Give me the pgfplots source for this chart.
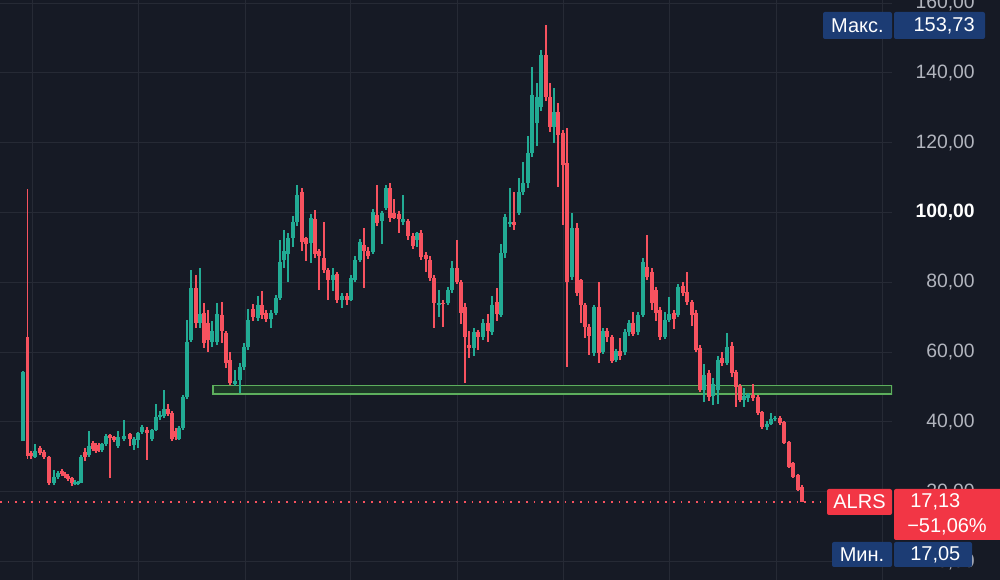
\documentclass[border=0pt]{standalone}
\usepackage{pgfplots}
\usepackage{pgfplotstable}
\pgfplotsset{compat=1.18}
\usepackage{fontspec}
\setmainfont{Liberation Sans}
\definecolor{bgc}{HTML}{161A25}
\definecolor{gridc}{HTML}{262A35}
\definecolor{up}{HTML}{22AB94}
\definecolor{dn}{HTML}{F7525F}
\definecolor{lblred}{HTML}{F23645}
\definecolor{navy}{HTML}{1C3C74}
\definecolor{lblgray}{HTML}{B2B5BE}
\definecolor{zoneline}{HTML}{5DAF5D}
\definecolor{zonefill}{HTML}{1C3826}

\pgfplotstableread{
x o h l c
23 34.6 54.6 34.4 54.4
27.5 64.4 106.8 29.5 30.3
31 31.2 31.8 29.3 30.2
35 30.0 33.8 29.6 31.8
40 32.6 33.2 30.4 31.0
44 31.4 32.0 29.5 29.9
49 30.0 30.2 22.0 22.6
54 22.4 26.2 22.0 24.2
58 24.2 26.0 23.6 25.4
62 25.8 26.6 24.4 25.0
65 25.2 25.6 24.0 24.6
68 24.6 25.0 23.0 23.6
72 23.8 24.2 21.6 22.4
75 22.2 23.4 21.8 22.8
78 22.4 23.2 22.0 22.8
81 22.6 30.4 22.4 30.0
85 31.4 32.4 28.8 29.8
89 30.4 37.3 30.0 33.2
93 34.0 34.6 31.6 32.2
96 32.8 34.0 31.0 31.8
99 33.4 34.0 31.4 32.2
102 32.0 34.0 31.4 33.6
106 33.8 36.4 33.2 36.0
110 36.2 36.6 24.0 35.4
114 35.6 36.0 34.2 34.8
118 33.0 37.5 32.6 35.8
124 35.0 40.6 34.4 36.0
130 36.6 36.8 33.2 35.2
134 33.4 35.8 32.0 35.0
138 34.8 37.2 32.4 36.8
142 37.0 39.2 36.4 38.4
147 37.8 38.6 29.2 36.8
152 35.0 38.0 34.6 37.6
156 37.8 45.0 37.4 41.4
160 41.4 43.0 40.6 42.0
164 41.6 49.2 41.0 43.8
168 43.6 45.2 41.8 42.4
172 42.6 43.0 34.6 35.0
176 37.4 38.2 34.8 35.6
179 35.2 38.8 34.8 38.2
183 38.2 47.6 37.8 47.0
187 47.2 69.3 46.6 63.0
191 63.6 83.6 62.8 78.5
196 78.5 82.0 66.8 68.4
200 68.4 84.0 67.0 71.0
204 71.3 74.2 61.2 62.7
208 68.4 72.0 60.0 63.4
212 63.0 69.0 61.5 66.0
217 63.0 74.0 62.0 71.0
222 70.5 74.4 62.5 66.0
226 65.5 66.0 55.5 57.0
230 57.8 60.0 50.6 51.2
235 51.0 55.0 50.4 51.6
240 52.0 57.0 48.4 55.8
244 55.8 62.5 54.8 61.5
248 61.5 72.4 60.5 69.3
253 72.4 73.8 69.0 70.0
258 69.9 76.0 69.0 73.6
262 73.6 77.5 69.6 70.6
266 71.3 72.0 68.6 69.6
271 69.6 72.0 67.0 71.3
276 71.3 76.4 70.6 75.6
280 75.6 92.0 75.0 85.9
284 86.5 95.0 84.0 89.0
288 88.0 94.0 80.0 92.6
293 92.8 99.0 90.0 97.4
297 97.4 108.0 96.0 105.0
302 106.0 107.0 89.0 91.6
306 92.6 93.0 86.0 91.0
311 91.3 99.5 85.6 98.5
315 98.0 100.8 87.0 88.0
319 88.9 89.5 77.9 87.6
324 87.0 97.4 82.8 83.6
328 83.6 84.0 75.0 80.7
333 80.7 84.0 77.5 82.2
337 82.5 83.0 74.0 75.0
342 75.0 77.0 72.7 76.0
347 76.2 77.0 73.5 75.0
351 75.0 82.0 74.6 81.3
355 80.7 87.5 80.0 86.5
360 86.5 92.4 85.8 91.6
364 90.8 95.5 78.5 89.0
368 89.0 90.0 86.8 87.6
373 88.8 101.0 88.0 100.2
377 99.2 108.0 96.0 97.0
382 97.5 100.5 91.0 99.8
386 101.4 107.8 100.8 107.0
390 107.0 108.4 97.4 98.3
394 100.0 104.0 98.0 98.5
399 99.6 100.5 94.0 98.2
403 97.2 105.0 96.4 98.0
408 97.7 98.0 92.0 93.2
413 93.2 94.0 89.5 90.5
417 92.2 94.4 90.0 94.2
421 94.2 95.0 86.5 87.3
426 87.8 88.6 83.0 86.8
430 86.5 87.5 80.4 81.3
434 81.3 82.0 67.0 74.2
439 73.6 77.8 70.0 74.0
443 74.2 75.0 67.3 73.8
448 74.2 78.6 73.4 77.9
452 77.9 86.0 77.0 84.2
457 84.2 92.2 79.4 80.0
461 80.0 80.6 68.0 71.3
465 73.0 74.0 51.2 64.4
469 62.0 66.0 58.4 61.2
474 61.3 67.0 59.0 65.8
478 65.8 66.4 60.6 64.3
483 64.4 69.4 63.6 68.4
488 68.4 71.0 63.0 66.0
492 65.8 76.0 65.0 73.6
497 74.4 78.4 69.0 71.0
501 70.7 91.0 70.0 88.5
505 88.5 99.6 87.0 98.8
510 96.6 107.0 95.8 97.2
514 97.4 106.0 95.0 96.4
519 100.0 110.0 99.4 106.0
523 106.0 114.6 105.0 108.5
528 108.5 122.0 107.0 117.0
532 117.0 141.8 116.0 133.7
537 125.7 137.0 119.0 133.0
541 130.3 146.6 129.0 145.2
546 145.2 153.73 132.0 133.2
550 133.2 137.0 123.0 124.6
554 124.6 135.8 120.0 128.9
558 128.9 131.5 107.4 122.3
563 122.9 123.6 96.5 113.7
567 114.3 124.3 55.8 80.0
572 81.6 100.0 80.6 95.6
577 95.6 97.0 76.0 77.0
581 80.7 81.0 68.4 73.6
585 73.6 74.0 64.0 67.3
589 67.3 68.0 59.2 64.6
594 59.8 73.6 59.0 73.0
599 73.0 80.0 57.0 59.8
603 60.0 67.0 59.4 66.0
607 66.0 67.0 63.0 64.4
612 64.4 65.0 57.0 57.4
616 57.6 61.0 57.2 60.4
620 60.4 64.0 57.6 59.0
625 60.0 66.6 59.2 65.8
629 65.8 69.2 64.6 68.4
633 68.4 71.6 64.6 65.2
638 65.8 71.4 65.0 70.7
643 70.7 87.0 70.0 85.9
647 84.5 93.6 80.6 81.6
652 83.0 84.0 72.0 74.2
656 77.9 78.6 69.0 71.3
660 72.1 72.8 63.4 64.4
665 64.4 71.6 63.8 69.3
669 69.3 75.9 68.6 71.0
674 71.3 72.0 66.5 69.6
678 70.7 79.4 70.0 78.7
683 78.9 80.0 76.0 77.0
687 77.3 83.0 73.6 74.4
692 74.4 75.0 67.6 70.7
696 71.3 72.0 60.0 60.7
700 61.3 62.0 48.6 49.2
704 49.2 56.7 45.8 53.5
709 54.0 55.0 46.0 47.0
713 47.4 52.5 44.8 51.0
718 49.2 59.0 45.2 57.8
722 58.4 60.0 56.0 57.0
727 57.0 65.6 56.4 61.5
732 61.8 63.0 53.0 54.0
736 54.4 55.0 44.4 50.0
740 50.4 51.0 45.6 46.4
744 46.4 49.8 44.4 47.4
748 46.8 48.4 45.6 48.0
753 47.6 51.0 46.0 46.8
758 47.2 47.6 42.0 42.6
762 42.9 43.2 38.0 38.6
767 38.4 40.2 37.6 39.4
771 39.4 42.6 39.0 40.8
775 40.8 41.8 40.2 41.2
780 41.2 41.6 39.2 39.8
784 40.0 40.4 33.6 34.0
789 34.3 34.6 26.8 27.2
793 28.3 28.6 23.8 24.3
798 24.9 25.2 20.2 20.6
802 21.4 21.8 17.05 17.13
}\candles

\begin{document}
\begin{tikzpicture}
\fill[bgc] (0,0) rectangle (750pt,435pt);
\begin{axis}[
  at={(0,0)}, anchor=south west,
  scale only axis, width=669pt, height=435pt,
  xmin=0, xmax=892, ymin=-5.3, ymax=160.9,
  axis line style={draw=none},
  major tick length=0pt,
  xtick={32,138,245,350,457,563,669,776,882},
  xticklabels={},
  ytick={0,20,40,60,80,100,120,140,160},
  yticklabels={{0,00},{20,00},{40,00},{60,00},{80,00},{\textbf{\color{white}100,00}},{120,00},{140,00},{160,00}},
  yticklabel pos=right,
  yticklabel style={anchor=east, xshift=62.25pt, inner sep=0pt, text=lblgray, font=\fontsize{14.5}{17}\selectfont},
  grid=major,
  major grid style={draw=gridc, line width=0.75pt},
  restrict y to domain=-100:300,
]
% support zone
\addplot[draw=zoneline, line width=0.8pt, fill=zonefill] coordinates {(213,48.0) (892,48.0) (892,50.5) (213,50.5)} -- cycle;
% down candles
\addplot[draw=none, mark=none, forget plot,
  error bars/.cd, y dir=both, y explicit, error mark=none,
  error bar style={draw=dn, line width=0.9pt}]
  table[x=x, y expr={\thisrow{c}<\thisrow{o} ? (\thisrow{h}+\thisrow{l})/2 : -500},
        y error expr={(\thisrow{h}-\thisrow{l})/2}] {\candles};
\addplot[draw=none, mark=none, forget plot,
  error bars/.cd, y dir=both, y explicit, error mark=none,
  error bar style={draw=dn, line width=2.5pt}]
  table[x=x, y expr={\thisrow{c}<\thisrow{o} ? (\thisrow{o}+\thisrow{c})/2 : -500},
        y error expr={max(abs(\thisrow{c}-\thisrow{o})/2,0.15)}] {\candles};
% up candles
\addplot[draw=none, mark=none, forget plot,
  error bars/.cd, y dir=both, y explicit, error mark=none,
  error bar style={draw=up, line width=0.9pt}]
  table[x=x, y expr={\thisrow{c}>=\thisrow{o} ? (\thisrow{h}+\thisrow{l})/2 : -500},
        y error expr={(\thisrow{h}-\thisrow{l})/2}] {\candles};
\addplot[draw=none, mark=none, forget plot,
  error bars/.cd, y dir=both, y explicit, error mark=none,
  error bar style={draw=up, line width=2.5pt}]
  table[x=x, y expr={\thisrow{c}>=\thisrow{o} ? (\thisrow{o}+\thisrow{c})/2 : -500},
        y error expr={max(abs(\thisrow{c}-\thisrow{o})/2,0.15)}] {\candles};
% last price line
\addplot[draw=dn, line width=1.3pt, dash pattern=on 1.3pt off 4.5pt] coordinates {(0,17.13) (892,17.13)};
\end{axis}
% price labels
\begin{scope}[every node/.style={text=white, font=\fontsize{15}{18}\selectfont, inner sep=0pt}]
\fill[navy, rounded corners=1.5pt] (617.25pt,405.75pt) rectangle (669pt,426pt);
\fill[navy, rounded corners=1.5pt] (670.5pt,405.75pt) rectangle (738.75pt,426pt);
\node at (643.1pt,415.9pt) {Макс.};
\node[anchor=east] at (731.25pt,415.9pt) {153,73};
\fill[lblred, rounded corners=1.5pt] (620.25pt,48.75pt) rectangle (669pt,68.25pt);
\fill[lblred, rounded corners=1.5pt] (670.5pt,30pt) rectangle (752pt,68.25pt);
\node at (644.6pt,58.5pt) {ALRS};
\node[anchor=west] at (682.5pt,58.5pt) {17,13};
\node[anchor=west] at (680.25pt,39.75pt) {−51,06\%};
\fill[navy, rounded corners=1.5pt] (624pt,9.75pt) rectangle (669pt,28.5pt);
\fill[navy, rounded corners=1.5pt] (670.5pt,9.75pt) rectangle (729pt,28.5pt);
\node at (646.5pt,19.1pt) {Мин.};
\node[anchor=west] at (682.5pt,19.1pt) {17,05};
\end{scope}
\pgfresetboundingbox
\path[use as bounding box] (0,0) rectangle (750pt,435pt);
\end{tikzpicture}
\end{document}
